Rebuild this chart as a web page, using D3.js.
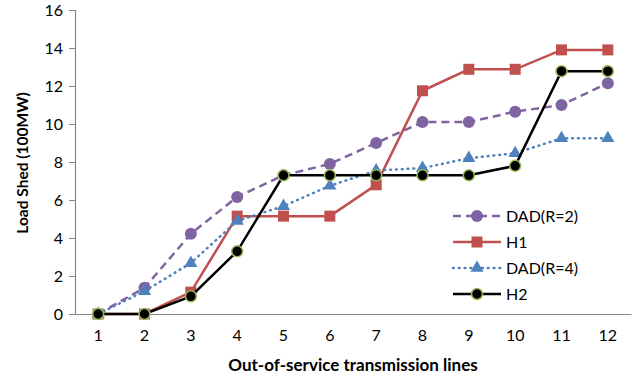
<!DOCTYPE html>
<html>
<head>
<meta charset="utf-8">
<script src="https://cdn.jsdelivr.net/npm/d3@7"></script>
<style>
  body { margin: 0; background: #fff; }
  svg text { font-family: Lato, "Open Sans", sans-serif; fill: #000; }
</style>
</head>
<body>
<svg id="chart" width="643" height="376"></svg>
<script>
const lines = [1, 2, 3, 4, 5, 6, 7, 8, 9, 10, 11, 12];
const dadR2 = [0, 1.38, 4.22, 6.16, 7.3, 7.9, 9.0, 10.1, 10.1, 10.65, 11.0, 12.15];
const h1 = [0, 0, 1.15, 5.15, 5.15, 5.15, 6.8, 11.75, 12.88, 12.88, 13.9, 13.9];
const dadR4 = [0, 1.2, 2.68, 4.9, 5.68, 6.75, 7.55, 7.68, 8.2, 8.46, 9.25, 9.25];
const h2 = [0, 0, 0.93, 3.3, 7.3, 7.3, 7.3, 7.3, 7.3, 7.8, 12.78, 12.78];
const yTicks = [0, 2, 4, 6, 8, 10, 12, 14, 16];

const series = [
  { name: "DAD(R=2)", values: dadR2, color: "#8064A2", dash: "8,5", cap: "butt", marker: "circle" },
  { name: "H1", values: h1, color: "#C0504D", dash: null, cap: "butt", marker: "square" },
  { name: "DAD(R=4)", values: dadR4, color: "#4F81BD", dash: "0.8,5", cap: "round", marker: "triangle" },
  { name: "H2", values: h2, color: "#000000", dash: null, cap: "butt", marker: "dot" }
];

const svg = d3.select("#chart");
const margin = { left: 75, right: 12, top: 10, bottom: 62 };
const width = 643, height = 376;

const x = d3.scaleBand()
  .domain(lines)
  .range([margin.left, width - margin.right]);
const y = d3.scaleLinear()
  .domain([0, 16])
  .range([height - margin.bottom, margin.top]);

const cx = d => x(d) + x.bandwidth() / 2;

// y axis
const yAxis = svg.append("g")
  .attr("transform", `translate(${margin.left},0)`)
  .call(d3.axisLeft(y).tickValues(yTicks).tickSize(6).tickPadding(6));
yAxis.select(".domain").attr("stroke", "#868686").attr("stroke-width", 1.2);
yAxis.selectAll(".tick line").attr("stroke", "#868686");
yAxis.selectAll("text").style("font-size", "16px");

// x axis
const xAxis = svg.append("g")
  .attr("transform", `translate(0,${y(0)})`)
  .call(d3.axisBottom(x).tickSize(0).tickPadding(16));
xAxis.select(".domain").attr("stroke", "#868686").attr("stroke-width", 1.2);
xAxis.selectAll("text").style("font-size", "16px");

// titles
svg.append("text")
  .attr("x", 353).attr("y", 371)
  .attr("text-anchor", "middle")
  .style("font-size", "17px").style("font-weight", "bold")
  .text("Out-of-service transmission lines");
svg.append("text")
  .attr("transform", "translate(28,163) rotate(-90)")
  .attr("text-anchor", "middle")
  .style("font-size", "15.5px").style("font-weight", "bold")
  .text("Load Shed (100MW)");

const line = d3.line()
  .x((d, i) => cx(lines[i]))
  .y(d => y(d));

function drawMarker(g, s) {
  if (s.marker === "circle") {
    g.append("circle").attr("r", 6).attr("fill", s.color);
  } else if (s.marker === "square") {
    g.append("rect").attr("x", -5.5).attr("y", -5.5).attr("width", 11).attr("height", 11)
      .attr("fill", s.color);
  } else if (s.marker === "triangle") {
    g.append("path").attr("d", d3.symbol(d3.symbolTriangle, 75)()).attr("fill", s.color);
  } else {
    g.append("circle").attr("r", 5.5).attr("fill", "#000")
      .attr("stroke", "#9BBB59").attr("stroke-width", 1.5);
  }
}

series.forEach(s => {
  svg.append("path")
    .datum(s.values)
    .attr("d", line)
    .attr("fill", "none")
    .attr("stroke", s.color)
    .attr("stroke-width", 2.5)
    .attr("stroke-dasharray", s.dash)
    .attr("stroke-linecap", s.cap);

  s.values.forEach((v, i) => {
    const g = svg.append("g").attr("transform", `translate(${cx(lines[i])},${y(v)})`);
    drawMarker(g, s);
  });
});

// legend
const legend = svg.append("g").attr("transform", "translate(453,216)");
series.forEach((s, i) => {
  const row = legend.append("g").attr("transform", `translate(0,${i * 26})`);
  row.append("line")
    .attr("x1", 0).attr("x2", 48)
    .attr("stroke", s.color).attr("stroke-width", 2.5)
    .attr("stroke-dasharray", s.dash)
    .attr("stroke-linecap", s.cap);
  const m = row.append("g").attr("transform", "translate(24,0)");
  drawMarker(m, s);
  row.append("text")
    .attr("x", 53).attr("y", 0).attr("dy", "0.35em")
    .style("font-size", "16px")
    .text(s.name);
});
</script>
</body>
</html>
